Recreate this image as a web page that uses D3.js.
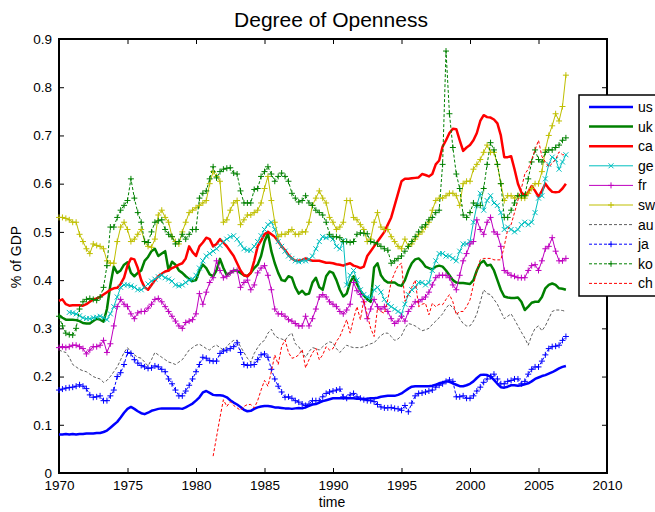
<!DOCTYPE html>
<html>
<head>
<meta charset="utf-8">
<script src="https://cdnjs.cloudflare.com/ajax/libs/d3/7.8.5/d3.min.js"></script>
<style>
  body { margin: 0; background: #fff; }
  text { font-family: "Liberation Sans", Arial, sans-serif; fill: #000; }
</style>
</head>
<body>
<div id="chart"></div>
<script>
// quarterly observations, 1970Q1 .. 2007Q1
var quarters = d3.range(149).map(function(i) { return 1970 + i / 4; });

var xTicks = [1970, 1975, 1980, 1985, 1990, 1995, 2000, 2005, 2010];
var yTicks = [0, 0.1, 0.2, 0.3, 0.4, 0.5, 0.6, 0.7, 0.8, 0.9];

var names = ["us", "uk", "ca", "ge", "fr", "sw", "au", "ja", "ko", "ch"];

var us = [
  .080,.080,.081,.080, .081,.080,.081,.081, .082,.082,.082,.083, .083,.085,.088,.094,
  .100,.106,.115,.125, .133,.137,.133,.128, .124,.122,.125,.129, .131,.133,.134,.134,
  .134,.134,.134,.134, .133,.136,.140,.144, .150,.157,.167,.170, .166,.162,.161,.161,
  .160,.157,.151,.146, .142,.137,.131,.128, .129,.133,.136,.138, .139,.139,.138,.136,
  .136,.135,.134,.134, .133,.134,.135,.134, .136,.139,.142,.143, .146,.149,.151,.153,
  .155,.155,.155,.155, .155,.155,.155,.154, .154,.153,.154,.155, .155,.156,.158,.159,
  .160,.160,.160,.162, .165,.170,.175,.179, .180,.180,.180,.180, .180,.181,.183,.186,
  .188,.190,.189,.186, .183,.180,.180,.182, .185,.190,.197,.203, .204,.203,.200,.193,
  .185,.178,.177,.179, .182,.182,.181,.182, .184,.186,.190,.195, .198,.201,.203,.206,
  .209,.213,.217,.220, .222
];
var uk = [
  .327,.322,.318,.318, .318,.317,.315,.311, .310,.310,.315,.320, .318,.314,.340,.390,
  .428,.415,.420,.432, .437,.415,.408,.415, .420,.440,.448,.460, .465,.450,.455,.460,
  .420,.438,.432,.420, .415,.408,.402,.398, .400,.420,.432,.425, .412,.408,.420,.444,
  .425,.410,.415,.420, .420,.415,.410,.408, .415,.425,.432,.450, .480,.497,.460,.435,
  .415,.400,.398,.408, .405,.385,.372,.378, .370,.372,.395,.405, .385,.380,.408,.418,
  .415,.400,.380,.366, .372,.395,.408,.392, .378,.368,.360,.355, .426,.435,.410,.400,
  .395,.395,.395,.390, .388,.400,.420,.435, .443,.445,.438,.428, .425,.422,.428,.430,
  .428,.420,.410,.400, .395,.394,.394,.393, .392,.400,.420,.435, .440,.430,.432,.420,
  .400,.380,.366,.364, .363,.363,.364,.355, .338,.345,.353,.355, .355,.365,.383,.390,
  .393,.390,.383,.382, .380
];
var ca = [
  .357,.360,.350,.347, .348,.348,.348,.347, .350,.355,.360,.362, .365,.370,.375,.380,
  .383,.384,.392,.405, .430,.445,.443,.425, .400,.385,.380,.390, .400,.408,.413,.418,
  .420,.425,.428,.432, .435,.445,.470,.458, .450,.470,.478,.488, .485,.470,.475,.485,
  .478,.470,.460,.450, .435,.420,.410,.408, .415,.440,.470,.482, .495,.500,.495,.490,
  .480,.470,.462,.452, .445,.440,.440,.442, .445,.442,.440,.440, .440,.438,.436,.436,
  .435,.433,.432,.430, .433,.435,.430,.428, .425,.428,.450,.460, .470,.480,.490,.500,
  .515,.530,.555,.580, .605,.610,.610,.611, .612,.613,.620,.618, .615,.620,.640,.648,
  .677,.690,.705,.714, .713,.690,.668,.675, .680,.690,.705,.730, .742,.738,.737,.733,
  .725,.700,.655,.655, .657,.630,.600,.582, .575,.582,.595,.585, .573,.585,.600,.590,
  .583,.582,.583,.590, .600
];
var ge = [
  null,null,null,.333, .332,.330,.326,.322, .320,.320,.322,.323, .325,.322,.318,.330,
  .345,.365,.385,.390, .390,.388,.385,.380, .380,.385,.392,.398, .402,.407,.410,.405,
  .402,.398,.390,.388, .390,.395,.400,.402, .410,.425,.440,.450, .455,.460,.465,.472,
  .480,.485,.490,.492, .485,.475,.465,.462, .462,.470,.480,.492, .505,.515,.520,.505,
  .480,.470,.460,.450, .445,.440,.438,.440, .440,.443,.450,.465, .480,.490,.488,.490,
  .485,.470,.465,.482, .390,.410,.420,.400, .380,.370,.365,.362, .380,.385,.375,.360,
  .350,.345,.340,.335, .330,.350,.370,.380, .385,.395,.395,.390, .395,.420,.440,.455,
  .455,.450,.450,.445, .440,.460,.475,.475, .480,.520,.555,.580, .545,.565,.575,.560,
  .555,.540,.505,.510, .505,.500,.505,.515, .520,.515,.520,.540, .570,.575,.610,.640,
  .655,.650,.630,.645, .660
];
var fr = [
  .260,.262,.260,.262, .265,.265,.262,.258, .247,.255,.262,.262, .265,.275,.250,.268,
  .305,.345,.360,.350, .345,.330,.320,.332, .335,.335,.342,.350, .360,.362,.355,.345,
  .335,.325,.315,.305, .300,.312,.315,.318, .330,.372,.350,.375, .395,.405,.440,.420,
  .405,.408,.415,.420, .420,.385,.395,.400, .380,.390,.415,.425, .430,.410,.380,.340,
  .330,.330,.325,.318, .315,.310,.305,.305, .325,.305,.320,.340, .365,.370,.365,.355,
  .350,.345,.335,.330, .338,.350,.395,.378, .370,.355,.320,.340, .360,.345,.340,.345,
  .335,.320,.310,.315, .325,.315,.335,.345, .355,.355,.360,.365, .375,.390,.405,.410,
  .410,.410,.405,.390, .380,.410,.440,.455, .475,.480,.525,.505, .495,.520,.530,.500,
  .495,.470,.420,.415, .410,.408,.405,.405, .405,.420,.430,.432, .420,.440,.465,.470,
  .488,.460,.440,.440, .445
];
var sw = [
  .530,.530,.528,.525, .520,.520,.495,.480, .465,.455,.475,.472, .470,.465,.440,.435,
  .435,.480,.510,.520, .505,.480,.485,.495, .505,.480,.470,.468, .485,.535,.545,.530,
  .520,.490,.480,.475, .500,.520,.540,.545, .550,.555,.560,.565, .600,.625,.615,.605,
  .520,.525,.545,.560, .565,.515,.525,.535, .535,.540,.545,.560, .590,.615,.565,.520,
  .490,.495,.495,.500, .505,.495,.495,.500, .500,.520,.555,.570, .585,.570,.560,.530,
  .520,.505,.510,.520, .565,.565,.530,.525, .515,.505,.480,.485, .520,.540,.510,.505,
  .505,.490,.480,.470, .465,.485,.470,.475, .485,.495,.500,.510, .520,.545,.565,.570,
  .570,.575,.580,.580, .575,.555,.600,.605, .605,.630,.640,.650, .665,.680,.665,.665,
  .640,.600,.565,.575, .575,.570,.575,.570, .570,.580,.590,.600, .600,.625,.670,.700,
  .720,.745,.730,.760, .825
];
var au = [
  .255,.252,.250,.240, .225,.220,.215,.212, .210,.205,.200,.197, .195,.188,.192,.200,
  .210,.220,.235,.250, .260,.250,.245,.240, .238,.230,.222,.235, .250,.245,.240,.235,
  .230,.228,.225,.230, .235,.245,.255,.260, .265,.267,.263,.258, .255,.262,.265,.260,
  .255,.262,.270,.275, .275,.262,.250,.238, .230,.248,.260,.270, .275,.290,.298,.285,
  .280,.278,.275,.285, .290,.268,.262,.250, .240,.252,.260,.258, .255,.262,.268,.272,
  .270,.258,.250,.258, .265,.262,.260,.260, .260,.262,.265,.268, .270,.278,.285,.290,
  .290,.283,.275,.278, .285,.300,.310,.308, .305,.300,.295,.297, .300,.308,.315,.322,
  .330,.342,.350,.342, .335,.320,.310,.305, .305,.315,.330,.355, .380,.372,.370,.360,
  .350,.335,.320,.325, .330,.318,.305,.292, .280,.265,.285,.300, .305,.295,.305,.320,
  .335,.338,.338,.337, .335
];
var ja = [
  .172,.174,.176,.177, .178,.180,.183,.180, .175,.162,.157,.158, .160,.150,.150,.160,
  .172,.200,.208,.225, .250,.248,.235,.228, .223,.220,.217,.218, .222,.220,.215,.210,
  .195,.185,.172,.160, .160,.170,.182,.195, .210,.225,.240,.238, .233,.232,.232,.248,
  .253,.255,.258,.262, .270,.250,.225,.223, .224,.225,.235,.245, .247,.240,.215,.195,
  .180,.168,.157,.158, .155,.150,.147,.143, .140,.143,.150,.150, .150,.158,.165,.168,
  .170,.172,.174,.158, .155,.162,.165,.158, .155,.152,.150,.150, .148,.142,.137,.135,
  .135,.136,.134,.133, .130,.140,.127,.145, .160,.165,.166,.168, .170,.172,.178,.182,
  .185,.190,.193,.190, .158,.158,.160,.155, .155,.160,.170,.178, .188,.195,.200,.205,
  .195,.185,.185,.190, .192,.195,.195,.185, .190,.205,.215,.220, .220,.232,.245,.258,
  .262,.263,.265,.275, .283
];
var ko = [
  .325,.305,.290,.287, .286,.300,.340,.355, .360,.362,.360,.358, .365,.385,.430,.510,
  .510,.530,.545,.555, .565,.610,.570,.540, .520,.480,.478,.500, .520,.523,.525,.505,
  .495,.490,.475,.480, .495,.485,.495,.505, .505,.570,.580,.585, .610,.635,.612,.625,
  .630,.632,.633,.622, .620,.585,.560,.560, .560,.588,.590,.615, .625,.635,.620,.605,
  .615,.622,.615,.605, .580,.570,.562,.565, .575,.560,.555,.545, .540,.535,.520,.495,
  .490,.490,.488,.480, .480,.478,.480,.495, .498,.497,.496,.480, .478,.475,.470,.465,
  .462,.435,.440,.445, .450,.460,.470,.480, .490,.500,.510,.515, .525,.530,.540,.545,
  .640,.875,.745,.675, .620,.590,.535,.530, .540,.560,.555,.555, .590,.640,.685,.670,
  .640,.600,.530,.530, .545,.560,.575,.575, .575,.610,.645,.670, .650,.645,.665,.670,
  .670,.675,.680,.690, .695
];
var ch = [
  null,null,null,null, null,null,null,null, null,null,null,null, null,null,null,null,
  null,null,null,null, null,null,null,null, null,null,null,null, null,null,null,null,
  null,null,null,null, null,null,null,null, null,null,null,null, null,.035,.075,.115,
  .152,.138,.148,.140, .135,.130,.138,.142, .142,.135,.150,.172, .192,.180,.210,.245,
  .225,.262,.276,.250, .238,.240,.245,.256, .218,.235,.249,.259, .235,.245,.262,.255,
  .258,.273,.283,.300, .318,.290,.320,.345, .318,.359,.328,.300, .283,.342,.335,.331,
  .360,.397,.415,.430, .435,.356,.370,.385, .400,.345,.350,.352, .328,.352,.345,.350,
  .349,.360,.370,.355, .328,.335,.335,.345, .359,.390,.420,.442, .445,.445,.445,.442,
  .442,.442,.470,.505, .515,.540,.566,.590, .620,.630,.650,.670, .690,.656,.645,.635,
  .642,.650,.666,.660, .660
];

var values = [us, uk, ca, ge, fr, sw, au, ja, ko, ch];

var styles = [
  { color: "#0000ff", width: 2.5, dash: null,  marker: null },
  { color: "#008000", width: 2.5, dash: null,  marker: null },
  { color: "#ff0000", width: 2.5, dash: null,  marker: null },
  { color: "#00bfbf", width: 1,   dash: null,  marker: "x" },
  { color: "#bf00bf", width: 1,   dash: null,  marker: "+" },
  { color: "#bfbf00", width: 1,   dash: null,  marker: "+" },
  { color: "#333333", width: 0.8, dash: "3,2", marker: null },
  { color: "#0000ff", width: 1,   dash: "3,2", marker: "+" },
  { color: "#008000", width: 1,   dash: "3,2", marker: "+" },
  { color: "#ff0000", width: 1,   dash: "3,2", marker: null }
];

var markerPath = {
  "+": "M-3,0H3M0,-3V3",
  "x": "M-2.5,-2.5L2.5,2.5M-2.5,2.5L2.5,-2.5"
};

var svgWidth = 655, svgHeight = 512;
var margin = { top: 39, right: 48, bottom: 39, left: 59 };
var width = svgWidth - margin.left - margin.right;
var height = svgHeight - margin.top - margin.bottom;

var svg = d3.select("#chart").append("svg")
  .attr("width", svgWidth)
  .attr("height", svgHeight);

var chartGroup = svg.append("g")
  .attr("transform", `translate(${margin.left}, ${margin.top})`);

var xScale = d3.scaleLinear().domain([1970, 2010]).range([0, width]);
var yScale = d3.scaleLinear().domain([0, 0.9]).range([height, 0]);

// axes, ticks point inward like matlab
var fmtY = function(d) { return d === 0 ? "0" : d3.format(".1f")(d); };

var bottomAxis = chartGroup.append("g")
  .attr("transform", `translate(0, ${height})`)
  .call(d3.axisBottom(xScale).tickValues(xTicks).tickSize(-5).tickPadding(7).tickFormat(d3.format("d")));
var leftAxis = chartGroup.append("g")
  .call(d3.axisLeft(yScale).tickValues(yTicks).tickSize(-5).tickPadding(7).tickFormat(fmtY));
var topAxis = chartGroup.append("g")
  .call(d3.axisTop(xScale).tickValues(xTicks).tickSize(-5).tickFormat(""));
var rightAxis = chartGroup.append("g")
  .attr("transform", `translate(${width}, 0)`)
  .call(d3.axisRight(yScale).tickValues(yTicks).tickSize(-5).tickFormat(""));

[bottomAxis, leftAxis, topAxis, rightAxis].forEach(function(a) {
  a.select(".domain").remove();
  a.selectAll("line").attr("stroke", "#000");
  a.selectAll("text").style("font-size", "13.5px");
});

chartGroup.append("rect")
  .attr("width", width)
  .attr("height", height)
  .attr("fill", "none")
  .attr("stroke", "#000")
  .attr("stroke-width", 2);

// series
var line = d3.line()
  .defined(function(d) { return d.v != null; })
  .x(function(d) { return xScale(d.t); })
  .y(function(d) { return yScale(d.v); });

values.forEach(function(vals, i) {
  var st = styles[i];
  var pts = vals.map(function(v, j) { return { t: quarters[j], v: v }; });
  var g = chartGroup.append("g");
  g.append("path")
    .datum(pts)
    .attr("d", line)
    .attr("fill", "none")
    .attr("stroke", st.color)
    .attr("stroke-width", st.width)
    .attr("stroke-linejoin", "round")
    .attr("stroke-dasharray", st.dash);
  if (st.marker) {
    g.selectAll("path.mk")
      .data(pts.filter(function(d) { return d.v != null; }))
      .enter()
      .append("path")
      .attr("class", "mk")
      .attr("d", markerPath[st.marker])
      .attr("transform", function(d) { return `translate(${xScale(d.t)}, ${yScale(d.v)})`; })
      .attr("stroke", st.color)
      .attr("stroke-width", 1)
      .attr("fill", "none");
  }
});

// labels
svg.append("text")
  .attr("x", 331)
  .attr("y", 27)
  .attr("text-anchor", "middle")
  .style("font-size", "21px")
  .text("Degree of Openness");

svg.append("text")
  .attr("x", 332)
  .attr("y", 507)
  .attr("text-anchor", "middle")
  .style("font-size", "14px")
  .text("time");

svg.append("text")
  .attr("transform", "translate(21, 257) rotate(-90)")
  .attr("text-anchor", "middle")
  .style("font-size", "14px")
  .text("% of GDP");

// legend
var legend = svg.append("g").attr("transform", "translate(579, 95)");
legend.append("rect")
  .attr("width", 100)
  .attr("height", 201)
  .attr("fill", "#fff")
  .attr("stroke", "#000")
  .attr("stroke-width", 1.5);

names.forEach(function(name, i) {
  var st = styles[i];
  var row = legend.append("g").attr("transform", `translate(0, ${12 + i * 19.6})`);
  row.append("line")
    .attr("x1", 10).attr("x2", 54)
    .attr("stroke", st.color)
    .attr("stroke-width", st.width)
    .attr("stroke-dasharray", st.dash);
  if (st.marker) {
    row.append("path")
      .attr("d", markerPath[st.marker])
      .attr("transform", "translate(32, 0)")
      .attr("stroke", st.color)
      .attr("fill", "none");
  }
  row.append("text")
    .attr("x", 59)
    .attr("dy", "0.35em")
    .style("font-size", "14px")
    .text(name);
});
</script>
</body>
</html>
